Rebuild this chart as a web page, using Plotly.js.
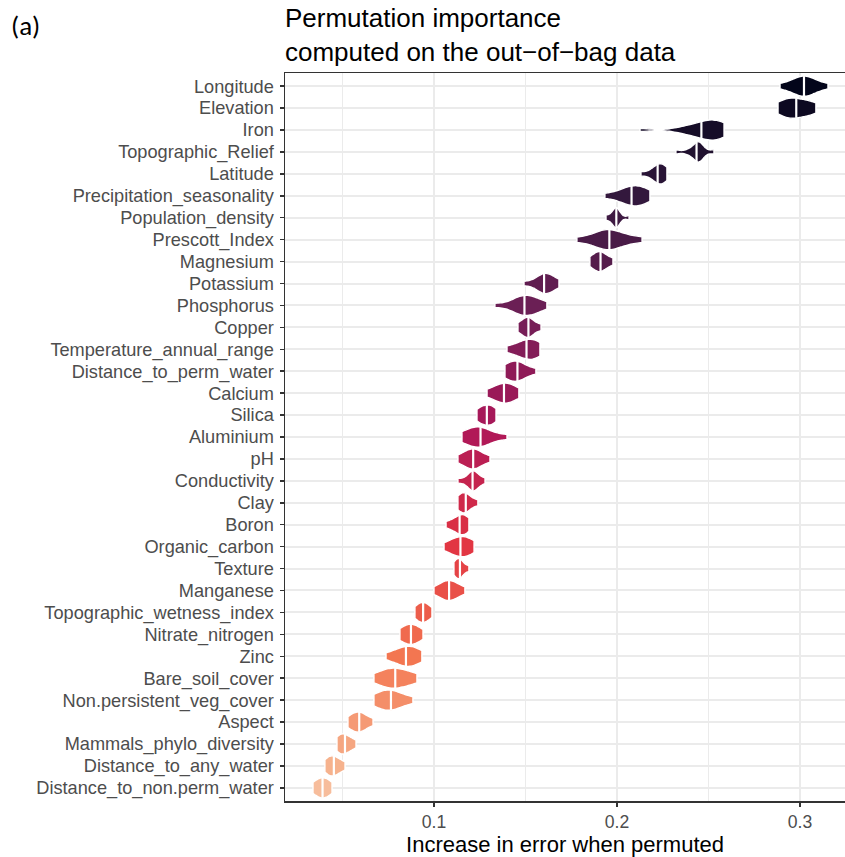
<!DOCTYPE html>
<html>
<head>
<meta charset="utf-8">
<script src="https://cdn.plot.ly/plotly-3.0.1.min.js"></script>
<style>
  html, body { margin: 0; padding: 0; background: #ffffff; }
  #chart { width: 845px; height: 857px; }
</style>
</head>
<body>
<div id="chart"></div>
<script>
// Variables, top to bottom
const categories = [
  "Longitude", "Elevation", "Iron", "Topographic_Relief", "Latitude",
  "Precipitation_seasonality", "Population_density", "Prescott_Index", "Magnesium",
  "Potassium", "Phosphorus", "Copper", "Temperature_annual_range",
  "Distance_to_perm_water", "Calcium", "Silica", "Aluminium", "pH", "Conductivity",
  "Clay", "Boron", "Organic_carbon", "Texture", "Manganese",
  "Topographic_wetness_index", "Nitrate_nitrogen", "Zinc", "Bare_soil_cover",
  "Non.persistent_veg_cover", "Aspect", "Mammals_phylo_diversity",
  "Distance_to_any_water", "Distance_to_non.perm_water"
];

// Permutation importance values (repeated permutations)
const importance = [
  [0.2891, 0.2945, 0.2973, 0.2995, 0.3011, 0.3022, 0.3033, 0.3049, 0.3071, 0.3098, 0.3153],
  [0.2880, 0.2907, 0.2929, 0.2945, 0.2962, 0.2984, 0.3005, 0.3038, 0.3060, 0.3087],
  [0.2126, 0.2344, 0.2399, 0.2437, 0.2464, 0.2486, 0.2508, 0.2530, 0.2541, 0.2552, 0.2563, 0.2585],
  [0.2322, 0.2388, 0.2421, 0.2437, 0.2443, 0.2448, 0.2454, 0.2470, 0.2530],
  [0.2131, 0.2186, 0.2208, 0.2219, 0.2230, 0.2240, 0.2251, 0.2262, 0.2273],
  [0.1934, 0.2005, 0.2038, 0.2060, 0.2082, 0.2098, 0.2115, 0.2131, 0.2153, 0.2180],
  [0.1940, 0.1967, 0.1984, 0.1989, 0.1995, 0.2000, 0.2005, 0.2022, 0.2066],
  [0.1781, 0.1863, 0.1907, 0.1929, 0.1945, 0.1962, 0.1984, 0.2016, 0.2060, 0.2137],
  [0.1852, 0.1880, 0.1896, 0.1907, 0.1918, 0.1940, 0.1978],
  [0.1492, 0.1557, 0.1579, 0.1596, 0.1607, 0.1617, 0.1634, 0.1650, 0.1683],
  [0.1333, 0.1426, 0.1454, 0.1475, 0.1492, 0.1508, 0.1525, 0.1546, 0.1568, 0.1617],
  [0.1459, 0.1486, 0.1503, 0.1514, 0.1525, 0.1541, 0.1585],
  [0.1399, 0.1448, 0.1475, 0.1497, 0.1514, 0.1530, 0.1546, 0.1563, 0.1579],
  [0.1388, 0.1404, 0.1426, 0.1443, 0.1459, 0.1475, 0.1497, 0.1557],
  [0.1290, 0.1333, 0.1361, 0.1377, 0.1393, 0.1410, 0.1432, 0.1464],
  [0.1235, 0.1257, 0.1273, 0.1290, 0.1306, 0.1322, 0.1339],
  [0.1153, 0.1186, 0.1208, 0.1230, 0.1246, 0.1262, 0.1284, 0.1322, 0.1399],
  [0.1131, 0.1164, 0.1186, 0.1202, 0.1213, 0.1224, 0.1240, 0.1262, 0.1306],
  [0.1131, 0.1175, 0.1197, 0.1208, 0.1213, 0.1219, 0.1230, 0.1246, 0.1279],
  [0.1131, 0.1142, 0.1158, 0.1169, 0.1180, 0.1197, 0.1240],
  [0.1066, 0.1104, 0.1126, 0.1142, 0.1153, 0.1164, 0.1175, 0.1191],
  [0.1055, 0.1093, 0.1115, 0.1131, 0.1148, 0.1164, 0.1180, 0.1197, 0.1219],
  [0.1109, 0.1120, 0.1131, 0.1137, 0.1148, 0.1158, 0.1191],
  [0.1000, 0.1033, 0.1055, 0.1071, 0.1082, 0.1093, 0.1109, 0.1131, 0.1169],
  [0.0896, 0.0913, 0.0929, 0.0940, 0.0951, 0.0967, 0.0989],
  [0.0814, 0.0836, 0.0858, 0.0874, 0.0891, 0.0907, 0.0940],
  [0.0738, 0.0787, 0.0814, 0.0836, 0.0852, 0.0869, 0.0885, 0.0907, 0.0934],
  [0.0672, 0.0710, 0.0738, 0.0760, 0.0776, 0.0792, 0.0814, 0.0842, 0.0874, 0.0907],
  [0.0672, 0.0699, 0.0721, 0.0743, 0.0760, 0.0776, 0.0798, 0.0831, 0.0885],
  [0.0530, 0.0552, 0.0568, 0.0585, 0.0596, 0.0607, 0.0628, 0.0667],
  [0.0470, 0.0481, 0.0492, 0.0503, 0.0514, 0.0530, 0.0546, 0.0574],
  [0.0404, 0.0421, 0.0432, 0.0443, 0.0454, 0.0470, 0.0486, 0.0514],
  [0.0339, 0.0361, 0.0377, 0.0393, 0.0404, 0.0421, 0.0443]
];

const xTickVals = [0.1, 0.2, 0.3];
const xTickText = ["0.1", "0.2", "0.3"];

// ---- styling helpers (rocket-like palette) ----
const paletteStops = [
  [0.000, [3, 5, 26]],
  [0.143, [53, 25, 62]],
  [0.286, [112, 31, 87]],
  [0.429, [173, 23, 89]],
  [0.571, [225, 51, 66]],
  [0.714, [243, 118, 81]],
  [0.857, [246, 180, 143]],
  [1.000, [250, 235, 221]]
];
function paletteColor(t) {
  for (let i = 0; i < paletteStops.length - 1; i++) {
    const [t0, c0] = paletteStops[i];
    const [t1, c1] = paletteStops[i + 1];
    if (t >= t0 && t <= t1) {
      const f = (t - t0) / (t1 - t0);
      const c = c0.map((v, k) => Math.round(v + f * (c1[k] - v)));
      return `rgb(${c[0]},${c[1]},${c[2]})`;
    }
  }
  const c = paletteStops[paletteStops.length - 1][1];
  return `rgb(${c[0]},${c[1]},${c[2]})`;
}

const n = categories.length;
const traces = categories.map((cat, i) => ({
  type: "violin",
  orientation: "h",
  x: importance[i],
  y: importance[i].map(() => cat),
  name: cat,
  fillcolor: paletteColor(0.88 * i / (n - 1)),
  opacity: 1,
  line: { color: "#ffffff", width: 1.4 },
  meanline: { visible: true, color: "#ffffff", width: 2.2 },
  points: false,
  box: { visible: false },
  spanmode: "hard",
  scalemode: "width",
  width: 0.92,
  side: "both",
  hoverinfo: "skip",
  showlegend: false
}));

const tickFont = { family: "Liberation Sans, Arial, sans-serif", size: 18.2, color: "#4D4D4D" };

const layout = {
  width: 845,
  height: 857,
  margin: { l: 285, r: 0, t: 73, b: 56 },
  paper_bgcolor: "#ffffff",
  plot_bgcolor: "#ffffff",
  violinmode: "overlay",
  hovermode: false,
  title: {
    text: "Permutation importance<br>computed on the out\u2212of\u2212bag data",
    font: { family: "Liberation Sans, Arial, sans-serif", size: 26, color: "#000000" },
    x: 0, xref: "paper", xanchor: "left",
    y: 0.968, yref: "container", yanchor: "top"
  },
  xaxis: {
    range: [0.0186, 0.3246],
    tickvals: xTickVals,
    ticktext: xTickText,
    ticks: "outside",
    ticklen: 4,
    tickwidth: 1.5,
    tickcolor: "#333333",
    tickfont: { family: "Liberation Sans, Arial, sans-serif", size: 17.6, color: "#4D4D4D" },
    showline: true,
    linecolor: "#333333",
    linewidth: 1.5,
    mirror: true,
    showgrid: true,
    gridcolor: "#EBEBEB",
    gridwidth: 2,
    minor: { dtick: 0.05, tick0: 0, showgrid: true, gridcolor: "#EBEBEB", gridwidth: 1 },
    zeroline: false,
    title: {
      text: "Increase in error when permuted",
      font: { family: "Liberation Sans, Arial, sans-serif", size: 22, color: "#000000" },
      standoff: 5
    }
  },
  yaxis: {
    type: "category",
    categoryorder: "array",
    categoryarray: categories,
    tickmode: "array",
    tickvals: categories,
    ticktext: categories,
    range: [n - 1 + 0.6, -0.6],
    ticks: "outside",
    ticklen: 4,
    tickwidth: 1.5,
    tickcolor: "#333333",
    tickfont: tickFont,
    ticklabelstandoff: 2,
    showline: true,
    linecolor: "#333333",
    linewidth: 1.5,
    showgrid: true,
    gridcolor: "#EBEBEB",
    gridwidth: 2,
    zeroline: false
  },
  annotations: [{
    text: "(a)",
    xref: "paper", yref: "paper",
    x: (9 - 285) / 560, xanchor: "left",
    y: (801 - 25) / 728, yanchor: "middle",
    showarrow: false,
    font: { family: "Carlito, Liberation Sans Narrow, Liberation Sans, sans-serif", size: 27, color: "#000000" }
  }]
};

Plotly.newPlot("chart", traces, layout, { displayModeBar: false, staticPlot: true }).then(gd => {
  // the median line is drawn solid in the reference
  gd.querySelectorAll("path.meanline").forEach(p => {
    p.style.strokeDasharray = "none";
    p.style.strokeLinecap = "butt";
  });
});
</script>
</body>
</html>
